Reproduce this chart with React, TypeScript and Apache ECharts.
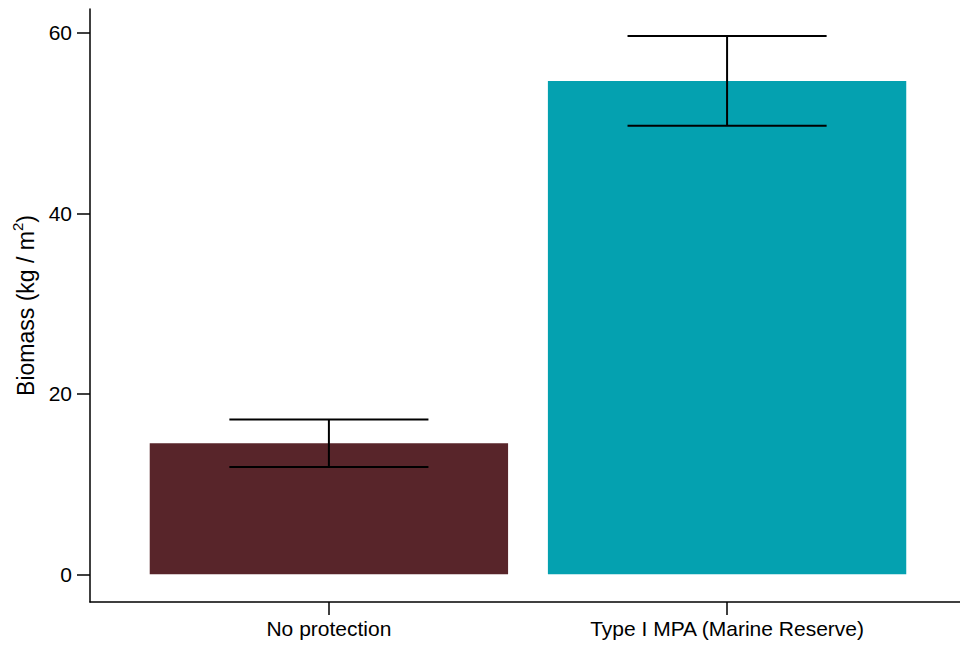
import React, { useEffect, useRef } from "react";
import * as echarts from "echarts";

// Group labels, positioned at x = 1, 2 on the value axis
const categories = ["No protection", "Type I MPA (Marine Reserve)"];
const positions = [1, 2];
// Mean biomass and the ends of the error bars (kg / m²)
const means = [14.53, 54.67];
const lowerBounds = [11.9, 49.72];
const upperBounds = [17.15, 59.67];
const barColors = ["#58252A", "#04A1B0"];
const yTicks = [0, 20, 40, 60];

const FONT = "'Liberation Sans', Arial, Helvetica, sans-serif";

export default function App() {
  const ref = useRef<HTMLDivElement>(null);

  useEffect(() => {
    if (!ref.current) return;
    const chart = echarts.init(ref.current, undefined, { renderer: "svg" });

    const barData = positions.map((p, i) => [p, means[i], i]);
    const errData = positions.map((p, i) => [p, lowerBounds[i], upperBounds[i]]);
    const barHalf = 0.45;
    const capHalf = 0.25;

    chart.setOption({
      animation: false,
      backgroundColor: "#ffffff",
      grid: {
        left: 90,
        right: 0,
        top: 9,
        bottom: 46,
        containLabel: false,
        outerBoundsMode: "none",
      },
      xAxis: {
        type: "value",
        min: 0.4,
        max: 2.585,
        splitLine: { show: false },
        axisLine: { show: true, onZero: false, lineStyle: { color: "#000", width: 1.5 } },
        axisTick: {
          show: true,
          customValues: positions,
          length: 13,
          lineStyle: { color: "#000", width: 1.5 },
        },
        axisLabel: {
          customValues: positions,
          formatter: (v: number) => {
            const idx = positions.indexOf(Math.round(v));
            return idx >= 0 ? categories[idx] : "";
          },
          color: "#000",
          fontFamily: FONT,
          fontSize: 21,
          margin: 16,
        },
      },
      yAxis: {
        type: "value",
        min: -3.07,
        max: 62.66,
        splitLine: { show: false },
        axisLine: { show: true, onZero: false, lineStyle: { color: "#000", width: 1.5 } },
        axisTick: {
          show: true,
          customValues: yTicks,
          length: 13,
          lineStyle: { color: "#000", width: 1.5 },
        },
        axisLabel: {
          customValues: yTicks,
          color: "#000",
          fontFamily: FONT,
          fontSize: 21,
          margin: 18,
        },
        name: "Biomass (kg / m{sup|2})",
        nameLocation: "middle",
        nameRotate: 90,
        nameGap: 48,
        nameTextStyle: {
          color: "#000",
          fontFamily: FONT,
          fontSize: 23,
          rich: {
            sup: {
              fontFamily: FONT,
              fontSize: 15,
              color: "#000",
              verticalAlign: "bottom",
              padding: [0, 0, 17, 0],
            },
          },
        },
      },
      series: [
        {
          type: "custom",
          data: barData,
          encode: { x: 0, y: 1 },
          renderItem: (params: any, api: any) => {
            const x = api.value(0);
            const y = api.value(1);
            const idx = api.value(2);
            const tl = api.coord([x - barHalf, y]);
            const br = api.coord([x + barHalf, 0]);
            return {
              type: "rect",
              shape: { x: tl[0], y: tl[1], width: br[0] - tl[0], height: br[1] - tl[1] },
              style: { fill: barColors[idx] },
            };
          },
        },
        {
          type: "custom",
          data: errData,
          encode: { x: 0, y: [1, 2] },
          z: 5,
          renderItem: (params: any, api: any) => {
            const x = api.value(0);
            const lo = api.coord([x, api.value(1)]);
            const hi = api.coord([x, api.value(2)]);
            const capL = api.coord([x - capHalf, 0])[0];
            const capR = api.coord([x + capHalf, 0])[0];
            const style = { stroke: "#000", lineWidth: 2 };
            return {
              type: "group",
              children: [
                { type: "line", shape: { x1: lo[0], y1: lo[1], x2: hi[0], y2: hi[1] }, style },
                { type: "line", shape: { x1: capL, y1: lo[1], x2: capR, y2: lo[1] }, style },
                { type: "line", shape: { x1: capL, y1: hi[1], x2: capR, y2: hi[1] }, style },
              ],
            };
          },
        },
      ],
    });

    return () => chart.dispose();
  }, []);

  return (
    <div
      ref={ref}
      style={{ position: "fixed", left: 0, top: 0, width: 960, height: 648, background: "#fff" }}
    />
  );
}
